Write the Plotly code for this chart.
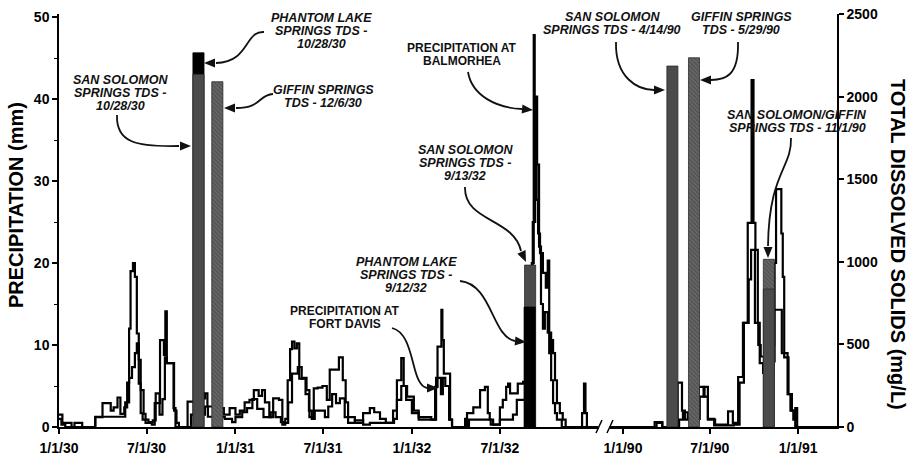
import plotly.graph_objects as go

# ---------------- data ----------------
# Precipitation (mm), 1930-1933
balmorhea_1930s_dates = [
    "1930-01-01", "1930-01-08", "1930-01-27", "1930-02-02", "1930-02-18", "1930-03-17", "1930-04-01",
    "1930-04-18", "1930-04-24", "1930-05-02", "1930-05-08", "1930-05-16", "1930-05-22", "1930-05-26",
    "1930-05-29", "1930-06-03", "1930-06-07", "1930-06-11", "1930-06-15", "1930-06-19", "1930-06-23",
    "1930-06-29", "1930-07-12", "1930-07-18", "1930-07-29", "1930-08-06", "1930-08-09", "1930-08-12",
    "1930-08-26", "1930-08-30", "1930-09-24", "1930-10-14", "1930-10-30", "1930-11-04", "1930-11-22",
    "1930-12-08", "1930-12-20", "1931-01-01", "1931-01-10", "1931-01-20", "1931-01-30", "1931-02-08",
    "1931-02-18", "1931-02-25", "1931-03-03", "1931-03-12", "1931-03-20", "1931-04-01", "1931-04-08",
    "1931-04-14", "1931-04-19", "1931-04-24", "1931-04-28", "1931-05-03", "1931-05-08", "1931-05-13",
    "1931-05-20", "1931-05-28", "1931-06-03", "1931-06-12", "1931-06-20", "1931-06-30", "1931-07-09",
    "1931-07-15", "1931-08-03", "1931-08-11", "1931-08-17", "1931-08-22", "1931-09-05", "1931-09-22",
    "1931-10-06", "1931-11-15", "1931-11-23", "1931-12-01", "1931-12-10", "1931-12-15", "1931-12-22",
    "1932-01-05", "1932-01-15", "1932-02-10", "1932-02-18", "1932-02-23", "1932-03-02", "1932-03-04",
    "1932-03-07", "1932-03-16", "1932-03-20", "1932-03-24", "1932-04-16", "1932-04-20", "1932-04-24",
    "1932-04-28", "1932-06-12", "1932-07-01", "1932-07-28", "1932-08-05", "1932-08-22", "1932-08-30",
    "1932-09-05", "1932-09-09", "1932-09-11", "1932-09-13", "1932-09-15", "1932-09-18", "1932-09-22",
    "1932-09-28", "1932-10-04", "1932-10-08", "1932-10-11", "1932-10-15", "1932-10-19", "1932-10-23",
    "1932-10-27", "1932-11-02", "1932-11-08", "1932-11-14", "1932-12-14", "1932-12-18", "1932-12-22",
    "1932-12-25", "1932-12-28", "1933-01-20",
]
balmorhea_1930s_mm = [
    1.5, 0.5, 0, 0.5, 0, 1.2, 2.9,
    2.0, 2.4, 3.6, 1.6, 2.4, 5.4, 12.0,
    19.0, 20.0, 18.3, 11.4, 5.3, 1.7, 0.9,
    0.5, 0.3, 2.9, 10.6, 8.8, 14.1, 7.8,
    2.3, 0, 3.1, 3.5, 4.1, 2.5, 2.3,
    1.5, 2.3, 1.5, 2.0, 3.0, 3.3, 4.5,
    3.8, 4.5, 3.0, 1.2, 3.5, 3.3, 0.3,
    1.0, 5.7, 9.5, 10.4, 9.6, 10.2, 5.9,
    6.0, 4.5, 1.2, 4.7, 4.8, 5.0, 3.3,
    7.0, 8.5, 5.7, 3.0, 0.5, 0.8, 0.3,
    0.5, 0.5, 2.0, 5.7, 8.4, 5.0, 3.7,
    2.0, 1.2, 0.9, 4.9, 9.8, 14.3, 10.6,
    6.5, 6.5, 0.9, 0, 0, 1.0, 0,
    0.9, 0.3, 0.9, 1.5, 3.3, 5.0, 6.0,
    20.0, 47.8, 37.4, 32.6, 27.7, 23.6, 21.2,
    18.8, 17.0, 20.3, 9.0, 10.6, 9.0, 5.7,
    2.9, 1.7, 0.9, 0, 0, 1.7, 5.3,
    1.7, 0, 0,
]

fort_davis_1930s_dates = [
    "1930-01-01", "1930-01-06", "1930-01-14", "1930-03-17", "1930-05-10", "1930-05-18", "1930-05-26",
    "1930-06-01", "1930-06-07", "1930-06-11", "1930-06-15", "1930-06-19", "1930-06-25", "1930-06-29",
    "1930-07-05", "1930-07-14", "1930-07-20", "1930-07-28", "1930-08-03", "1930-08-08", "1930-08-12",
    "1930-08-27", "1930-09-01", "1930-09-06", "1930-10-01", "1930-10-30", "1930-11-05", "1930-11-20",
    "1930-12-10", "1930-12-25", "1931-01-01", "1931-01-15", "1931-01-25", "1931-02-05", "1931-02-15",
    "1931-02-28", "1931-03-15", "1931-03-25", "1931-04-05", "1931-04-12", "1931-04-20", "1931-04-28",
    "1931-05-10", "1931-05-18", "1931-05-26", "1931-06-02", "1931-06-08", "1931-06-14", "1931-07-05",
    "1931-07-12", "1931-07-20", "1931-07-28", "1931-08-05", "1931-08-15", "1931-09-05", "1931-09-22",
    "1931-10-06", "1931-10-15", "1931-10-27", "1931-11-08", "1931-11-25", "1931-12-01", "1931-12-10",
    "1931-12-20", "1932-01-01", "1932-01-15", "1932-02-13", "1932-02-20", "1932-03-01", "1932-03-05",
    "1932-03-10", "1932-03-18", "1932-03-24", "1932-04-24", "1932-05-07", "1932-05-21", "1932-05-31",
    "1932-06-06", "1932-06-10", "1932-06-17", "1932-07-01", "1932-07-07", "1932-07-14", "1932-07-18",
    "1932-07-22", "1932-08-07", "1932-08-18", "1932-09-01", "1932-09-07", "1932-09-12", "1932-09-16",
    "1932-09-20", "1932-09-24", "1932-09-28", "1932-10-02", "1932-10-08", "1932-10-15", "1932-10-19",
    "1932-10-23", "1932-10-27", "1932-11-06", "1933-01-20",
]
fort_davis_1930s_mm = [
    1.0, 0.3, 0, 1.25, 1.25, 3.0, 6.0,
    7.3, 9.0, 10.2, 8.2, 4.5, 1.6, 0.9,
    0.6, 0.8, 4.1, 1.5, 3.4, 8.5, 7.8,
    2.0, 0.5, 0, 1.5, 2.5, 1.25, 1.2,
    1.0, 0.6, 1.2, 1.8, 2.3, 3.4, 2.2,
    1.2, 1.8, 1.2, 0.6, 0.5, 3.0, 6.5,
    7.3, 5.9, 4.0, 2.0, 1.0, 2.0, 1.2,
    2.5, 4.0, 2.9, 3.5, 1.2, 0.5, 1.7,
    2.3, 1.8, 1.0, 0.5, 1.0, 3.3, 5.0,
    3.3, 1.7, 0.9, 0.9, 6.0, 4.0, 6.0,
    5.0, 0.9, 0, 1.7, 2.4, 4.5, 4.9,
    1.7, 0.9, 0.3, 2.4, 3.3, 4.9, 5.3,
    4.1, 5.3, 5.5, 10.0, 25.0, 40.3, 32.0,
    22.0, 15.0, 12.0, 14.0, 11.5, 5.7, 2.9,
    1.7, 0.9, 0, 0,
]

# Precipitation (mm), 1990
balmorhea_1990_dates = [
    "1989-12-05", "1990-03-08", "1990-03-24", "1990-04-22", "1990-04-25", "1990-05-04", "1990-05-10",
    "1990-06-08", "1990-06-18", "1990-06-27", "1990-07-12", "1990-08-08", "1990-08-18", "1990-08-29",
    "1990-09-08", "1990-09-18", "1990-09-26", "1990-09-30", "1990-10-04", "1990-10-09", "1990-10-13",
    "1990-10-20", "1990-11-08", "1990-11-12", "1990-11-28", "1990-12-10", "1990-12-16", "1990-12-22",
    "1990-12-26", "1990-12-30", "1991-03-23",
]
balmorhea_1990_mm = [
    0, 0.6, 0, 0.3, 5.4, 2.0, 0.9,
    4.9, 3.7, 0.9, 0.3, 1.9, 0.5, 6.1,
    12.7, 24.9, 42.3, 24.9, 21.6, 12.7, 7.8,
    6.6, 10.0, 14.3, 9.0, 4.0, 2.0, 0.9,
    2.3, 0, 0,
]

fort_davis_1990_dates = [
    "1989-12-05", "1990-03-12", "1990-03-24", "1990-04-28", "1990-05-06", "1990-05-16", "1990-06-10",
    "1990-06-20", "1990-06-27", "1990-07-10", "1990-08-20", "1990-09-01", "1990-09-10", "1990-09-20",
    "1990-09-25", "1990-10-03", "1990-10-10", "1990-10-15", "1990-10-22", "1990-11-10", "1990-11-13",
    "1990-11-16", "1990-11-27", "1990-11-30", "1990-12-03", "1990-12-12", "1990-12-19", "1990-12-26",
    "1991-03-23",
]
fort_davis_1990_mm = [
    0, 0.5, 0, 0.9, 1.8, 1.0, 3.7,
    4.9, 1.0, 0.2, 0.3, 5.4, 12.7, 18.0,
    21.6, 12.7, 10.0, 8.6, 6.6, 8.0, 20.0,
    29.0, 23.6, 18.3, 8.5, 4.0, 2.0, 0,
    0,
]

# Spring-water total dissolved solids (mg/L)
tds_dates = ["1930-10-28", "1930-10-28", "1930-12-06", "1932-09-13", "1932-09-12",
             "1990-04-14", "1990-05-29", "1990-11-01", "1990-11-01"]
tds_springs = ["San Solomon", "Phantom Lake", "Giffin", "San Solomon", "Phantom Lake",
               "San Solomon", "Giffin", "Giffin", "San Solomon"]
tds_mg_l = [2135, 2265, 2090, 980, 726, 2185, 2235, 1015, 835]

ticks_1930s = ["1930-01-01", "1930-07-01", "1931-01-01", "1931-07-01", "1932-01-01", "1932-07-01"]
labels_1930s = ["1/1/30", "7/1/30", "1/1/31", "7/1/31", "1/1/32", "7/1/32"]
ticks_1990 = ["1990-01-01", "1990-07-01", "1991-01-01"]
labels_1990 = ["1/1/90", "7/1/90", "1/1/91"]

# ---------------- geometry ----------------
W, H = 909, 458
M_L, M_R, M_T, M_B = 59, 72, 14, 31
PLOT_W = W - M_L - M_R
PLOT_H = H - M_T - M_B
SPLIT_L, SPLIT_R = 599, 610          # pixel edges of the axis break
DAY_MS = 86400000
BAR_DAYS = 23

FONT = "Liberation Sans, Arial, Helvetica, sans-serif"
INK = "#111111"


def to_paper(x, y):
    return (x - M_L) / PLOT_W, (H - M_B - y) / PLOT_H


fig = go.Figure()

# precipitation lines
line_style = dict(color="black", width=2.2, shape="hv")
for dates, vals, xa in [
    (balmorhea_1930s_dates, balmorhea_1930s_mm, "x"),
    (fort_davis_1930s_dates, fort_davis_1930s_mm, "x"),
    (balmorhea_1990_dates, balmorhea_1990_mm, "x2"),
    (fort_davis_1990_dates, fort_davis_1990_mm, "x2"),
]:
    fig.add_trace(go.Scatter(x=dates, y=vals, mode="lines", line=line_style,
                             xaxis=xa, yaxis="y", hoverinfo="skip"))

# TDS bars, taller samples drawn first so shorter ones sit in front
spring_marker = {
    "San Solomon": dict(color="#4b4b4b", line=dict(color="#2a2a2a", width=0.8)),
    "Phantom Lake": dict(color="#000000", line=dict(color="#000000", width=0.8)),
    "Giffin": dict(color="#555555", line=dict(color="#2a2a2a", width=0.8),
                   pattern=dict(shape="\\", fgcolor="#8c8c8c", size=3, solidity=0.3,
                                fillmode="overlay")),
}
order = sorted(range(len(tds_mg_l)), key=lambda i: -tds_mg_l[i])
for i in order:
    early = tds_dates[i] < "1950"
    width = BAR_DAYS * DAY_MS
    fig.add_trace(go.Bar(
        x=[tds_dates[i]], y=[tds_mg_l[i]], width=[width],
        offset=[-width if early else -width / 2],
        marker=spring_marker[tds_springs[i]], opacity=1,
        xaxis="x" if early else "x2", yaxis="y2", hoverinfo="skip",
    ))

# ---------------- axes ----------------
d1 = (SPLIT_L - M_L) / PLOT_W
d2 = (SPLIT_R - M_L) / PLOT_W
tickfont = dict(family=FONT, size=14, color="black", weight="bold")
xcommon = dict(type="date", showline=True, linecolor="black", linewidth=1.5, ticks="outside",
               ticklen=5, tickwidth=1.5, tickcolor="black", showgrid=False, zeroline=False,
               tickfont=tickfont, anchor="y", ticklabelstandoff=2)

fig.update_layout(
    width=W, height=H,
    margin=dict(l=M_L, r=M_R, t=M_T, b=M_B, autoexpand=False),
    paper_bgcolor="white", plot_bgcolor="white",
    showlegend=False, barmode="overlay",
    xaxis=dict(domain=[0, d1], range=["1930-01-01", "1933-01-22"],
               tickvals=ticks_1930s, ticktext=labels_1930s, **xcommon),
    xaxis2=dict(domain=[d2, 1], range=["1989-12-05", "1991-03-23"],
                tickvals=ticks_1990, ticktext=labels_1990, **xcommon),
    yaxis=dict(range=[0, PLOT_H / 8.2], tickvals=[0, 10, 20, 30, 40, 50], anchor="x",
               showline=True, linecolor="black", linewidth=1.5, ticks="outside", ticklen=5,
               tickwidth=1.5, tickcolor="black", showgrid=False, zeroline=False,
               tickfont=tickfont, automargin=False,
               minor=dict(dtick=5, ticks="outside", ticklen=3, tickwidth=1.2, tickcolor="black")),
    yaxis2=dict(range=[0, 2500], dtick=500, overlaying="y", side="right", anchor="x2",
                showline=True, linecolor="black", linewidth=1.5, ticks="outside", ticklen=5,
                tickwidth=1.5, tickcolor="black", showgrid=False, zeroline=False,
                tickfont=tickfont, automargin=False),
)

# axis titles
tx, ty = to_paper(16, 205)
fig.add_annotation(text="PRECIPITATION (mm)", x=tx, y=ty, xref="paper", yref="paper",
                   textangle=-90, showarrow=False, xanchor="center", yanchor="middle",
                   font=dict(family=FONT, size=20, color="black", weight="bold"))
tx, ty = to_paper(898, 244)
fig.add_annotation(text="TOTAL DISSOLVED SOLIDS (mg/L)", x=tx, y=ty, xref="paper", yref="paper",
                   textangle=90, showarrow=False, xanchor="center", yanchor="middle",
                   font=dict(family=FONT, size=20, color="black", weight="bold"))

# axis break marks
for bx in (SPLIT_L, SPLIT_R):
    x0, y0 = to_paper(bx - 3, 433)
    x1, y1 = to_paper(bx + 3, 420)
    fig.add_shape(type="line", xref="paper", yref="paper", x0=x0, y0=y0, x1=x1, y1=y1,
                  line=dict(color="black", width=1.5))

# callout labels: (lines, centre x, first-line y, italic)
callouts = [
    (["PHANTOM LAKE", "SPRINGS TDS -", "10/28/30"], 321, 18, True),
    (["SAN SOLOMON", "SPRINGS TDS -", "10/28/30"], 120, 80, True),
    (["GIFFIN SPRINGS", "TDS - 12/6/30"], 323, 90, True),
    (["PRECIPITATION AT", "BALMORHEA"], 462, 48, False),
    (["SAN SOLOMON", "SPRINGS TDS -", "9/13/32"], 465, 150, True),
    (["PHANTOM LAKE", "SPRINGS TDS -", "9/12/32"], 406, 262, True),
    (["PRECIPITATION AT", "FORT DAVIS"], 345, 311, False),
    (["SAN SOLOMON", "SPRINGS TDS - 4/14/90"], 612, 17, True),
    (["GIFFIN SPRINGS", "TDS - 5/29/90"], 741, 17, True),
    (["SAN SOLOMON/GIFFIN", "SPRINGS TDS - 11/1/90"], 797, 115, True),
]
for lines, cx, cy, italic in callouts:
    for k, txt in enumerate(lines):
        ax_, ay_ = to_paper(cx, cy + 13 * k)
        fig.add_annotation(
            text=txt, x=ax_, y=ay_, xref="paper", yref="paper", showarrow=False,
            xanchor="center", yanchor="middle",
            font=dict(family=FONT, size=12.5 if italic else 12, color=INK, weight="bold",
                      style="italic" if italic else "normal"))

# curved leader arrows: start, control 1, control 2, end of stem, arrow tip (pixels)
leaders = [
    ((264, 32), (244, 31), (250, 62), (216, 63), (204, 63)),
    ((117, 115), (116, 142), (135, 147), (179, 146), (191, 146)),
    ((273, 94), (258, 95), (262, 108), (236, 108), (224, 108)),
    ((468, 72), (472, 96), (497, 108), (522, 109), (533, 110)),
    ((465, 187), (464, 222), (514, 218), (521, 251), (526, 262)),
    ((460, 281), (492, 284), (492, 337), (515, 341), (526, 342)),
    ((392, 328), (416, 334), (410, 385), (427, 388), (438, 388)),
    ((616, 42), (615, 78), (638, 90), (654, 90), (665, 90)),
    ((738, 42), (739, 76), (725, 80), (711, 80), (700, 80)),
    ((791, 138), (792, 168), (769, 172), (768, 246), (768, 258)),
]


def fmt(pt):
    x, y = to_paper(*pt)
    return f"{x:.5f},{y:.5f}"


for p0, c1, c2, p3, tip in leaders:
    fig.add_shape(type="path", xref="paper", yref="paper", layer="above",
                  path=f"M {fmt(p0)} C {fmt(c1)} {fmt(c2)} {fmt(p3)}",
                  line=dict(color=INK, width=1.8))
    dx, dy = tip[0] - p3[0], tip[1] - p3[1]
    n = (dx * dx + dy * dy) ** 0.5
    ux, uy = dx / n, dy / n
    base = (tip[0] - ux * 11, tip[1] - uy * 11)
    hw = 4.5
    left = (base[0] - uy * hw, base[1] + ux * hw)
    right = (base[0] + uy * hw, base[1] - ux * hw)
    fig.add_shape(type="path", xref="paper", yref="paper", layer="above",
                  path=f"M {fmt(tip)} L {fmt(left)} L {fmt(right)} Z",
                  fillcolor=INK, line=dict(width=0))

fig.write_html("out.html")
